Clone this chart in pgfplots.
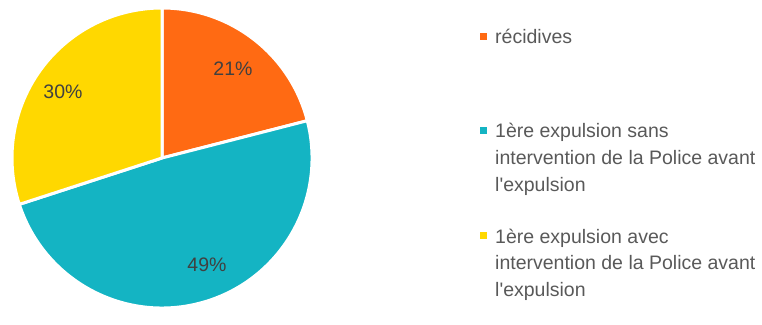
\documentclass[border=0pt]{standalone}
\usepackage{pgfplots}
\pgfplotsset{compat=1.18}
\usepackage{pgfplotstable}
\usepackage{fontspec}
\setmainfont{Liberation Sans}
\definecolor{cOrange}{HTML}{FF6A13}
\definecolor{cTeal}{HTML}{14B4C3}
\definecolor{cYellow}{HTML}{FFD800}
\definecolor{lblgray}{HTML}{404040}
\definecolor{leggray}{HTML}{595959}

% value (percent), colour, label position (px, y from bottom)
\pgfplotstableread{
value color lx ly
21 cOrange 233 240
49 cTeal 207 44
30 cYellow 63 217
}\piedata

\def\cx{162}
\def\cy{151}
\def\rad{150}

% build the slice commands from the table
\gdef\piecmds{}
\gdef\labcmds{}
\gdef\cum{0}
\pgfplotsforeachungrouped \i in {0,1,2}{%
  \pgfplotstablegetelem{\i}{value}\of\piedata \let\v\pgfplotsretval
  \pgfplotstablegetelem{\i}{color}\of\piedata \let\col\pgfplotsretval
  \pgfplotstablegetelem{\i}{lx}\of\piedata \let\lx\pgfplotsretval
  \pgfplotstablegetelem{\i}{ly}\of\piedata \let\ly\pgfplotsretval
  \pgfmathsetmacro\sa{90-3.6*\cum}%
  \pgfmathsetmacro\ea{90-3.6*(\cum+\v)}%
  \pgfmathsetmacro\newcum{\cum+\v}%
  \xdef\cum{\newcum}%
  \xdef\piecmds{\unexpanded\expandafter{\piecmds}%
    \noexpand\filldraw[fill=\col, draw=white, line width=3bp, line join=round]
      (axis cs:\cx,\cy) -- ++(\sa:\rad bp) arc[start angle=\sa, end angle=\ea, radius=\rad bp] -- cycle;}%
  \xdef\labcmds{\unexpanded\expandafter{\labcmds}%
    \noexpand\node[text=lblgray, font=\noexpand\fontsize{19.5bp}{23bp}\noexpand\selectfont]
      at (axis cs:\lx,\ly) {\v\noexpand\%};}%
}

\begin{document}
\begin{tikzpicture}
\begin{axis}[
  x=1bp, y=1bp,
  xmin=0, xmax=762, ymin=0, ymax=309,
  scale only axis,
  hide axis,
  clip=false,
]
\path (axis cs:0,0) rectangle (axis cs:762,309);
\piecmds
\labcmds
% legend
\fill[cOrange] (axis cs:480,269) rectangle (axis cs:487,276);
\fill[cTeal]   (axis cs:480,175) rectangle (axis cs:487,182);
\fill[cYellow] (axis cs:480,70) rectangle (axis cs:487,77);
\begin{scope}[every node/.style={anchor=base west, inner sep=0pt, text=leggray, font=\fontsize{19.5bp}{23bp}\selectfont}]
\node at (axis cs:495,265) {récidives};
\node at (axis cs:495,171) {1ère expulsion sans};
\node at (axis cs:495,144.5) {intervention de la Police avant};
\node at (axis cs:495,118) {l\textquotesingle expulsion};
\node at (axis cs:495,66) {1ère expulsion avec};
\node at (axis cs:495,39.5) {intervention de la Police avant};
\node at (axis cs:495,13) {l\textquotesingle expulsion};
\end{scope}
\end{axis}
\end{tikzpicture}
\end{document}
